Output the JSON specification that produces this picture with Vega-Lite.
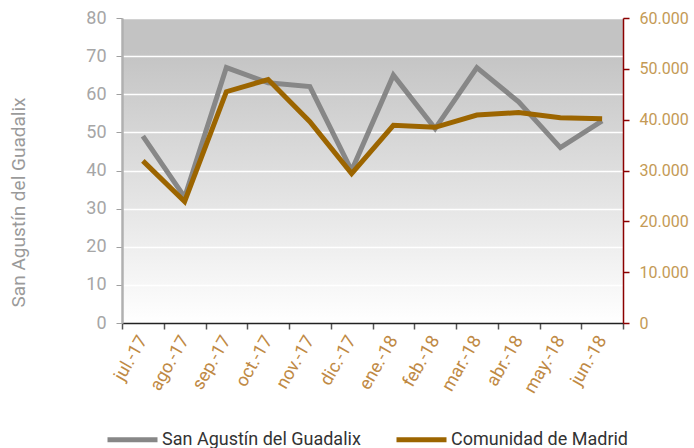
{
  "$schema": "https://vega.github.io/schema/vega-lite/v6.json",
  "width": 501,
  "height": 305,
  "autosize": "none",
  "padding": {"left": 122, "top": 18, "right": 71, "bottom": 125},
  "background": "white",
  "config": {
    "font": "Roboto",
    "view": {
      "stroke": null,
      "fill": {
        "gradient": "linear",
        "x1": 0, "y1": 0, "x2": 0, "y2": 1,
        "stops": [
          {"offset": 0, "color": "#c3c3c3"},
          {"offset": 0.1, "color": "#c3c3c3"},
          {"offset": 1, "color": "#ffffff"}
        ]
      }
    }
  },
  "data": {
    "values": [
      {"mes": "jul.-17", "san": 49, "madrid": 31900},
      {"mes": "ago.-17", "san": 33, "madrid": 23900},
      {"mes": "sep.-17", "san": 67, "madrid": 45500},
      {"mes": "oct.-17", "san": 63, "madrid": 47900},
      {"mes": "nov.-17", "san": 62, "madrid": 39600},
      {"mes": "dic.-17", "san": 40, "madrid": 29400},
      {"mes": "ene.-18", "san": 65, "madrid": 38900},
      {"mes": "feb.-18", "san": 51, "madrid": 38500},
      {"mes": "mar.-18", "san": 67, "madrid": 40900},
      {"mes": "abr.-18", "san": 58, "madrid": 41400},
      {"mes": "may.-18", "san": 46, "madrid": 40400},
      {"mes": "jun.-18", "san": 53, "madrid": 40200}
    ]
  },
  "encoding": {
    "x": {
      "field": "mes",
      "type": "ordinal",
      "sort": null,
      "bandPosition": 0.5,
      "scale": {"type": "band", "paddingInner": 0, "paddingOuter": 0},
      "axis": {
        "title": null,
        "domainColor": "#222222",
        "domainWidth": 1.5,
        "tickColor": "#555555",
        "tickWidth": 1.5,
        "tickSize": 6,
        "tickBand": "extent",
        "labelAngle": -60,
        "labelAlign": "right",
        "labelBaseline": "middle",
        "labelPadding": 8,
        "labelColor": "#bf8a45",
        "labelFontSize": 18
      }
    }
  },
  "layer": [
    {
      "mark": {"type": "line", "strokeWidth": 5, "strokeJoin": "miter"},
      "encoding": {
        "y": {
          "field": "san",
          "type": "quantitative",
          "scale": {"domain": [0, 80]},
          "axis": {
            "title": "San Agustín del Guadalix",
            "titleColor": "#9a9a9a",
            "titleFontSize": 19,
            "titleFontWeight": "normal",
            "titleX": -104,
            "titleY": 184,
            "titleAngle": -90,
            "titleAlign": "center",
            "titleBaseline": "middle",
            "values": [0, 10, 20, 30, 40, 50, 60, 70, 80],
            "labelOverlap": false,
            "grid": true,
            "gridColor": "#ffffff",
            "gridWidth": 1.5,
            "domainColor": "#b0b0b0",
            "domainWidth": 2.5,
            "tickColor": "#a0a0a0",
            "tickWidth": 1,
            "tickSize": 6,
            "labelColor": "#a6a6a6",
            "labelFontSize": 18,
            "labelPadding": 10
          }
        },
        "color": {
          "datum": "San Agustín del Guadalix",
          "type": "nominal",
          "scale": {
            "domain": ["San Agustín del Guadalix", "Comunidad de Madrid"],
            "range": ["#878787", "#9c6500"]
          },
          "legend": {
            "title": null,
            "orient": "none",
            "direction": "horizontal",
            "legendX": -17,
            "legendY": 394,
            "symbolType": "stroke",
            "symbolSize": 2500,
            "symbolStrokeWidth": 5,
            "labelFontSize": 18,
            "labelColor": "#333333",
            "labelOffset": 2,
            "columnPadding": 25,
            "labelLimit": 300
          }
        }
      }
    },
    {
      "mark": {"type": "line", "strokeWidth": 5, "strokeJoin": "miter"},
      "encoding": {
        "y": {
          "field": "madrid",
          "type": "quantitative",
          "scale": {"domain": [0, 60000]},
          "axis": {
            "orient": "right",
            "title": null,
            "values": [0, 10000, 20000, 30000, 40000, 50000, 60000],
            "labelOverlap": false,
            "grid": false,
            "domainColor": "#8b0000",
            "domainWidth": 1.5,
            "tickColor": "#8b0000",
            "tickWidth": 1.5,
            "tickSize": 6,
            "labelColor": "#c49a55",
            "labelFontSize": 16,
            "labelPadding": 10,
            "labelExpr": "replace(format(datum.value, ','), ',', '.')"
          }
        },
        "color": {"datum": "Comunidad de Madrid", "type": "nominal"}
      }
    }
  ],
  "resolve": {"scale": {"y": "independent"}}
}
